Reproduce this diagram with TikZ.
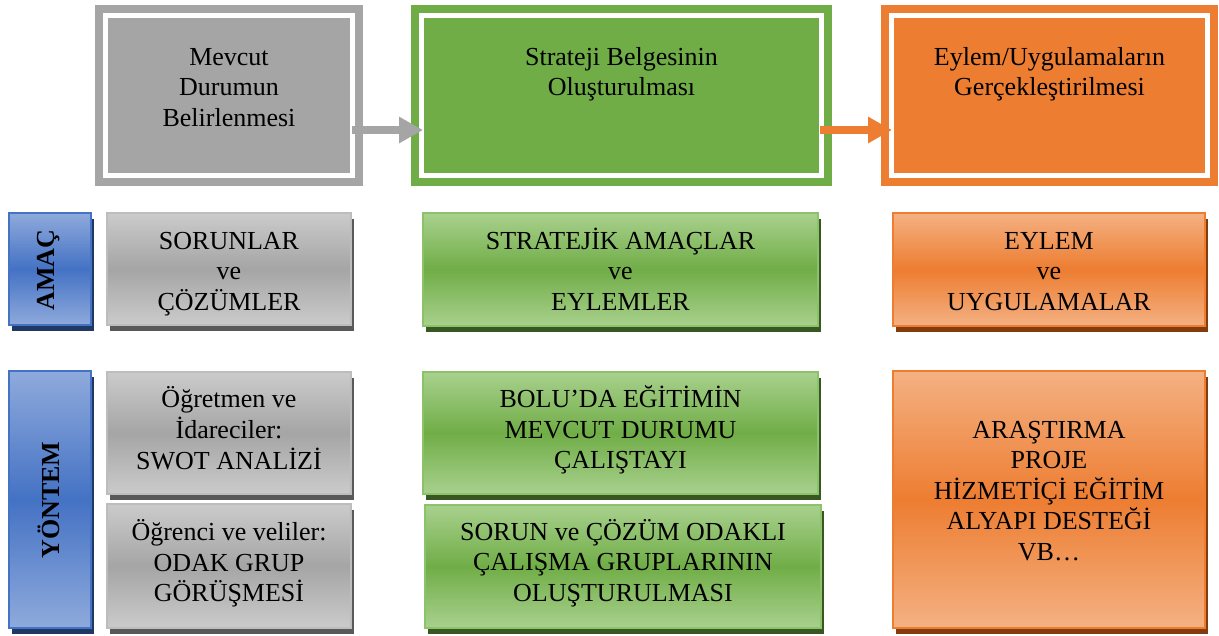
\documentclass[tikz,border=0pt]{standalone}
\usepackage{fontspec}
\setmainfont{Liberation Serif}
\usetikzlibrary{arrows.meta,shadows}
\definecolor{grayF}{HTML}{A5A5A5}
\definecolor{greenF}{HTML}{70AD47}
\definecolor{orangeF}{HTML}{ED7D31}
\definecolor{gTop}{HTML}{CBCBCB}
\definecolor{gBord}{HTML}{BDBDBD}
\definecolor{gShad}{HTML}{595959}
\definecolor{grTop}{HTML}{A9D18E}
\definecolor{grBord}{HTML}{8CC36A}
\definecolor{grShad}{HTML}{385723}
\definecolor{oTop}{HTML}{F4B183}
\definecolor{oShad}{HTML}{843C0C}
\definecolor{bTop}{HTML}{8FAADC}
\definecolor{bMid}{HTML}{4472C4}
\definecolor{bShad}{HTML}{203864}
\tikzset{
  cell/.style={rectangle, inner sep=0pt, outer sep=0pt, line width=1.2pt},
  shad/.style={drop shadow={shadow xshift=3pt, shadow yshift=-6pt, fill=#1, opacity=1}},
  graycell/.style={cell, draw=gBord, top color=gTop, bottom color=gTop, middle color=grayF, shad=gShad},
  greencell/.style={cell, draw=grBord, top color=grTop, bottom color=grTop, middle color=greenF, shad=grShad},
  orangecell/.style={cell, draw=orangeF, top color=oTop, bottom color=oTop, middle color=orangeF, shad=oShad},
  bluecell/.style={cell, draw=bMid, line width=1.8pt, top color=bTop, bottom color=bTop, middle color=bMid, shad=bShad},
  topfill/.style={rectangle, inner sep=0pt, outer sep=0pt, minimum width=#1},
  txt/.style={anchor=north, inner sep=0pt, align=center, font=\fontsize{26}{30.5}\selectfont},
  sidetxt/.style={rotate=90, inner sep=0pt, font=\fontsize{26}{30.5}\selectfont\bfseries},
  flow/.style={line width=8pt, -{Triangle[length=24pt,width=25pt]}},
}
\begin{document}
\begin{tikzpicture}[x=1pt,y=-1pt]
\useasboundingbox (0,0) rectangle (1219,635);

% ---- top frames ----
\fill[grayF] (95,5) rectangle (363,186);
\fill[white] (103,13) rectangle (355,178);
\node[topfill=242pt, minimum height=155pt, fill=grayF] (b1) at (229,95.5) {};

\fill[greenF] (411,5) rectangle (832,186);
\fill[white] (419,13) rectangle (824,178);
\node[topfill=395pt, minimum height=155pt, fill=greenF] (b2) at (621.5,95.5) {};

\fill[orangeF] (881,5) rectangle (1218,186);
\fill[white] (889,13) rectangle (1210,178);
\node[topfill=311pt, minimum height=155pt, fill=orangeF] (b3) at (1049.5,95.5) {};

\node[txt] (t1) at (229,43.65) {\strut Mevcut\\Durumun\\Belirlenmesi};
\node[txt] (t2) at (621.5,43.65) {\strut Strateji Belgesinin\\Oluşturulması};
\node[txt] (t3) at (1049.5,43.65) {\strut Eylem/Uygulamaların\\Gerçekleştirilmesi};

\draw[flow, grayF] ([xshift=2pt,yshift=-34.5pt]b1.east) -- ([xshift=-1pt,yshift=-34.5pt]b2.west);
\draw[flow, orangeF] ([xshift=1pt,yshift=-34.5pt]b2.east) -- ([xshift=-2pt,yshift=-34.5pt]b3.west);

% ---- side labels ----
\node[bluecell, minimum width=82pt, minimum height=112pt] (amac) at (50,269) {};
\node[bluecell, minimum width=82pt, minimum height=257pt] (yontem) at (50,499.5) {};
\node[sidetxt] (amacT) at (49,270) {AMAÇ};
\node[sidetxt] (yontemT) at (49,500) {YÖNTEM};

% ---- gray column ----
\node[graycell, minimum width=244pt, minimum height=112pt] (sorun) at (229,269) {};
\node[graycell, minimum width=244pt, minimum height=122pt] (ogretmen) at (229,433) {};
\node[graycell, minimum width=244pt, minimum height=124pt] (ogrenci) at (229,566) {};
\node[txt] (sorunT) at (229,227.65) {\strut SORUNLAR\\ve\\ÇÖZÜMLER};
\node[txt] (ogretmenT) at (229,385.65) {\strut Öğretmen ve\\İdareciler:\\SWOT ANALİZİ};
\node[txt] (ogrenciT) at (229,519.15) {\strut Öğrenci ve veliler:\\ODAK GRUP\\GÖRÜŞMESİ};

% ---- green column ----
\node[greencell, minimum width=395pt, minimum height=113pt] (stratejik) at (620.5,269.5) {};
\node[greencell, minimum width=395pt, minimum height=122pt] (bolu) at (620.5,433) {};
\node[greencell, minimum width=396pt, minimum height=123pt] (sorunc) at (623,566.5) {};
\node[txt] (stratejikT) at (620.5,227.65) {\strut STRATEJİK AMAÇLAR\\ve\\EYLEMLER};
\node[txt] (boluT) at (620.5,385.65) {\strut BOLU’DA EĞİTİMİN\\MEVCUT DURUMU\\ÇALIŞTAYI};
\node[txt] (soruncT) at (623,518.65) {\strut SORUN ve ÇÖZÜM ODAKLI\\ÇALIŞMA GRUPLARININ\\OLUŞTURULMASI};

% ---- orange column ----
\node[orangecell, minimum width=312pt, minimum height=113pt] (eylem) at (1049,269.5) {};
\node[orangecell, minimum width=312pt, minimum height=257pt] (arastirma) at (1049,499.5) {};
\node[txt] (eylemT) at (1049,227.65) {\strut EYLEM\\ve\\UYGULAMALAR};
\node[txt] (arastirmaT) at (1049,416.65) {\strut ARAŞTIRMA\\PROJE\\HİZMETİÇİ EĞİTİM\\ALYAPI DESTEĞİ\\VB…};
\end{tikzpicture}
\end{document}
